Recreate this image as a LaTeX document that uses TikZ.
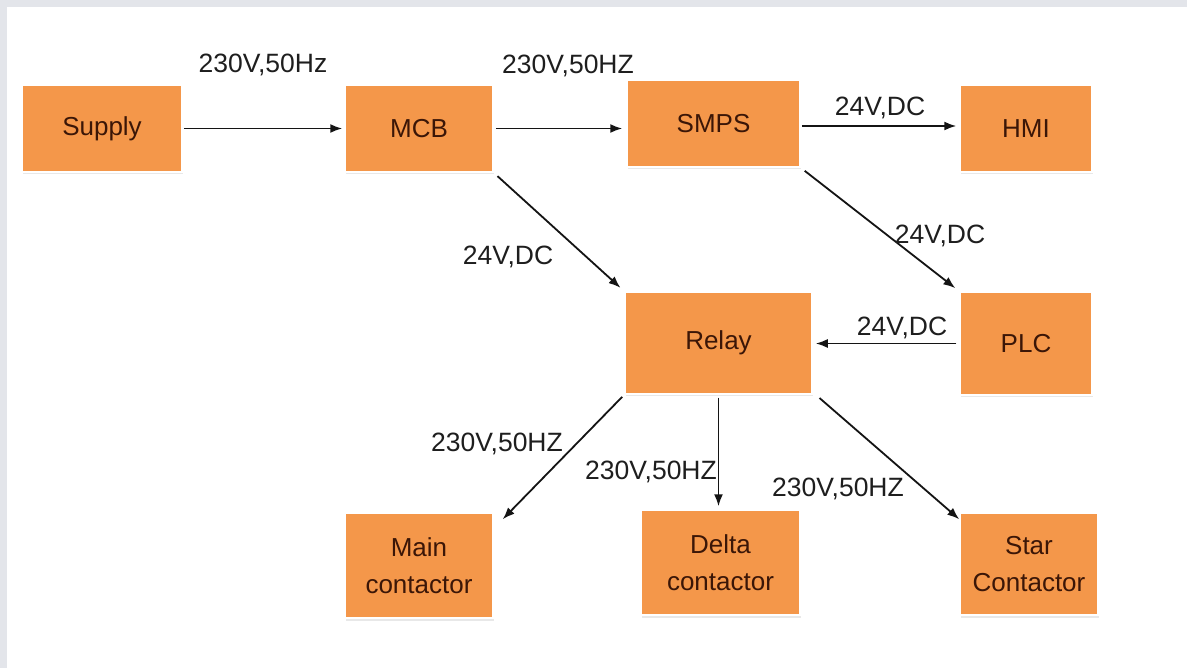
\documentclass[tikz,border=0pt]{standalone}
\usepackage{fontspec}
\setmainfont{Liberation Sans}
\usetikzlibrary{arrows.meta,calc,shadows}
\definecolor{boxfill}{HTML}{F4974A}
\definecolor{boxtext}{HTML}{3B1607}
\definecolor{labtext}{HTML}{1E1E1E}
\definecolor{framegray}{HTML}{E3E5EA}
\begin{document}
\begin{tikzpicture}[x=1pt,y=-1pt,
  blk/.style={rectangle, fill=boxfill, draw=white, line width=1.5pt, inner sep=0pt,
    align=center, text=boxtext, font=\fontsize{26}{37}\selectfont,
    drop shadow={shadow xshift=0.5pt, shadow yshift=-2.5pt, opacity=0.18, fill=gray}},
  lab/.style={text=labtext, font=\fontsize{26.5}{30}\selectfont, inner sep=0pt},
  conn/.style={-{Latex[length=12pt,width=9pt]}, line width=1.8pt, black!92}]
\useasboundingbox (0,0) rectangle (1187,668);
\fill[framegray] (0,0) rectangle (1187,668);
\fill[white] (7,7) rectangle (1187,668);

\node[blk, minimum width=160pt, minimum height=87pt] (supply) at (102,128.5) {Supply};
\node[blk, minimum width=148pt, minimum height=87pt] (mcb) at (419,128.5) {MCB};
\node[blk, minimum width=173pt, minimum height=87pt] (smps) at (713.5,123.5) {SMPS};
\node[blk, minimum width=132pt, minimum height=87pt] (hmi) at (1026,128.5) {HMI};
\node[blk, minimum width=187pt, minimum height=102pt] (relay) at (718.5,343) {Relay};
\node[blk, minimum width=132pt, minimum height=103pt] (plc) at (1026,343.5) {PLC};
\node[blk, minimum width=148pt, minimum height=105pt] (main) at (419,565.5) {Main\\contactor};
\node[blk, minimum width=159pt, minimum height=105pt] (delta) at (720.5,562.5) {Delta\\contactor};
\node[blk, minimum width=138pt, minimum height=102pt] (star) at (1029,564) {Star\\Contactor};

\coordinate (mainend) at ($(main.north east)+(9,7)$);
\coordinate (starend) at ($(star.north west)+(0,7)$);

\draw[conn, shorten <=1pt, shorten >=2pt] (supply.east) -- (mcb.west);
\draw[conn, shorten <=2pt, shorten >=4pt] (mcb.east) -- (mcb.east -| smps.west);
\draw[conn, shorten <=1pt, shorten >=3pt] (smps.east |- 0,126) -- (hmi.west |- 0,126);
\draw[conn, shorten <=5pt, shorten >=5pt] (mcb.south east) -- (relay.north west);
\draw[conn, shorten <=5pt, shorten >=5pt] (smps.south east) -- (plc.north west);
\draw[conn, shorten <=3pt, shorten >=3pt] (plc.west) -- (plc.west -| relay.east);
\draw[conn, shorten <=3pt] (relay.south west) -- (mainend);
\draw[conn, shorten <=3pt, shorten >=3pt] (relay.south) -- (relay.south |- delta.north);
\draw[conn, shorten <=5pt] ($(relay.south east)+(3,0)$) -- (starend);

\node[lab] (l1) at (263,65) {230V,50Hz};
\node[lab] (l2) at (568,66) {230V,50HZ};
\node[lab] (l3) at (880,108) {24V,DC};
\node[lab] (l4) at (940,236) {24V,DC};
\node[lab] (l5) at (508,257) {24V,DC};
\node[lab] (l6) at (902,328) {24V,DC};
\node[lab] (l7) at (497,444) {230V,50HZ};
\node[lab] (l8) at (651,472) {230V,50HZ};
\node[lab] (l9) at (838,489) {230V,50HZ};
\end{tikzpicture}
\end{document}
